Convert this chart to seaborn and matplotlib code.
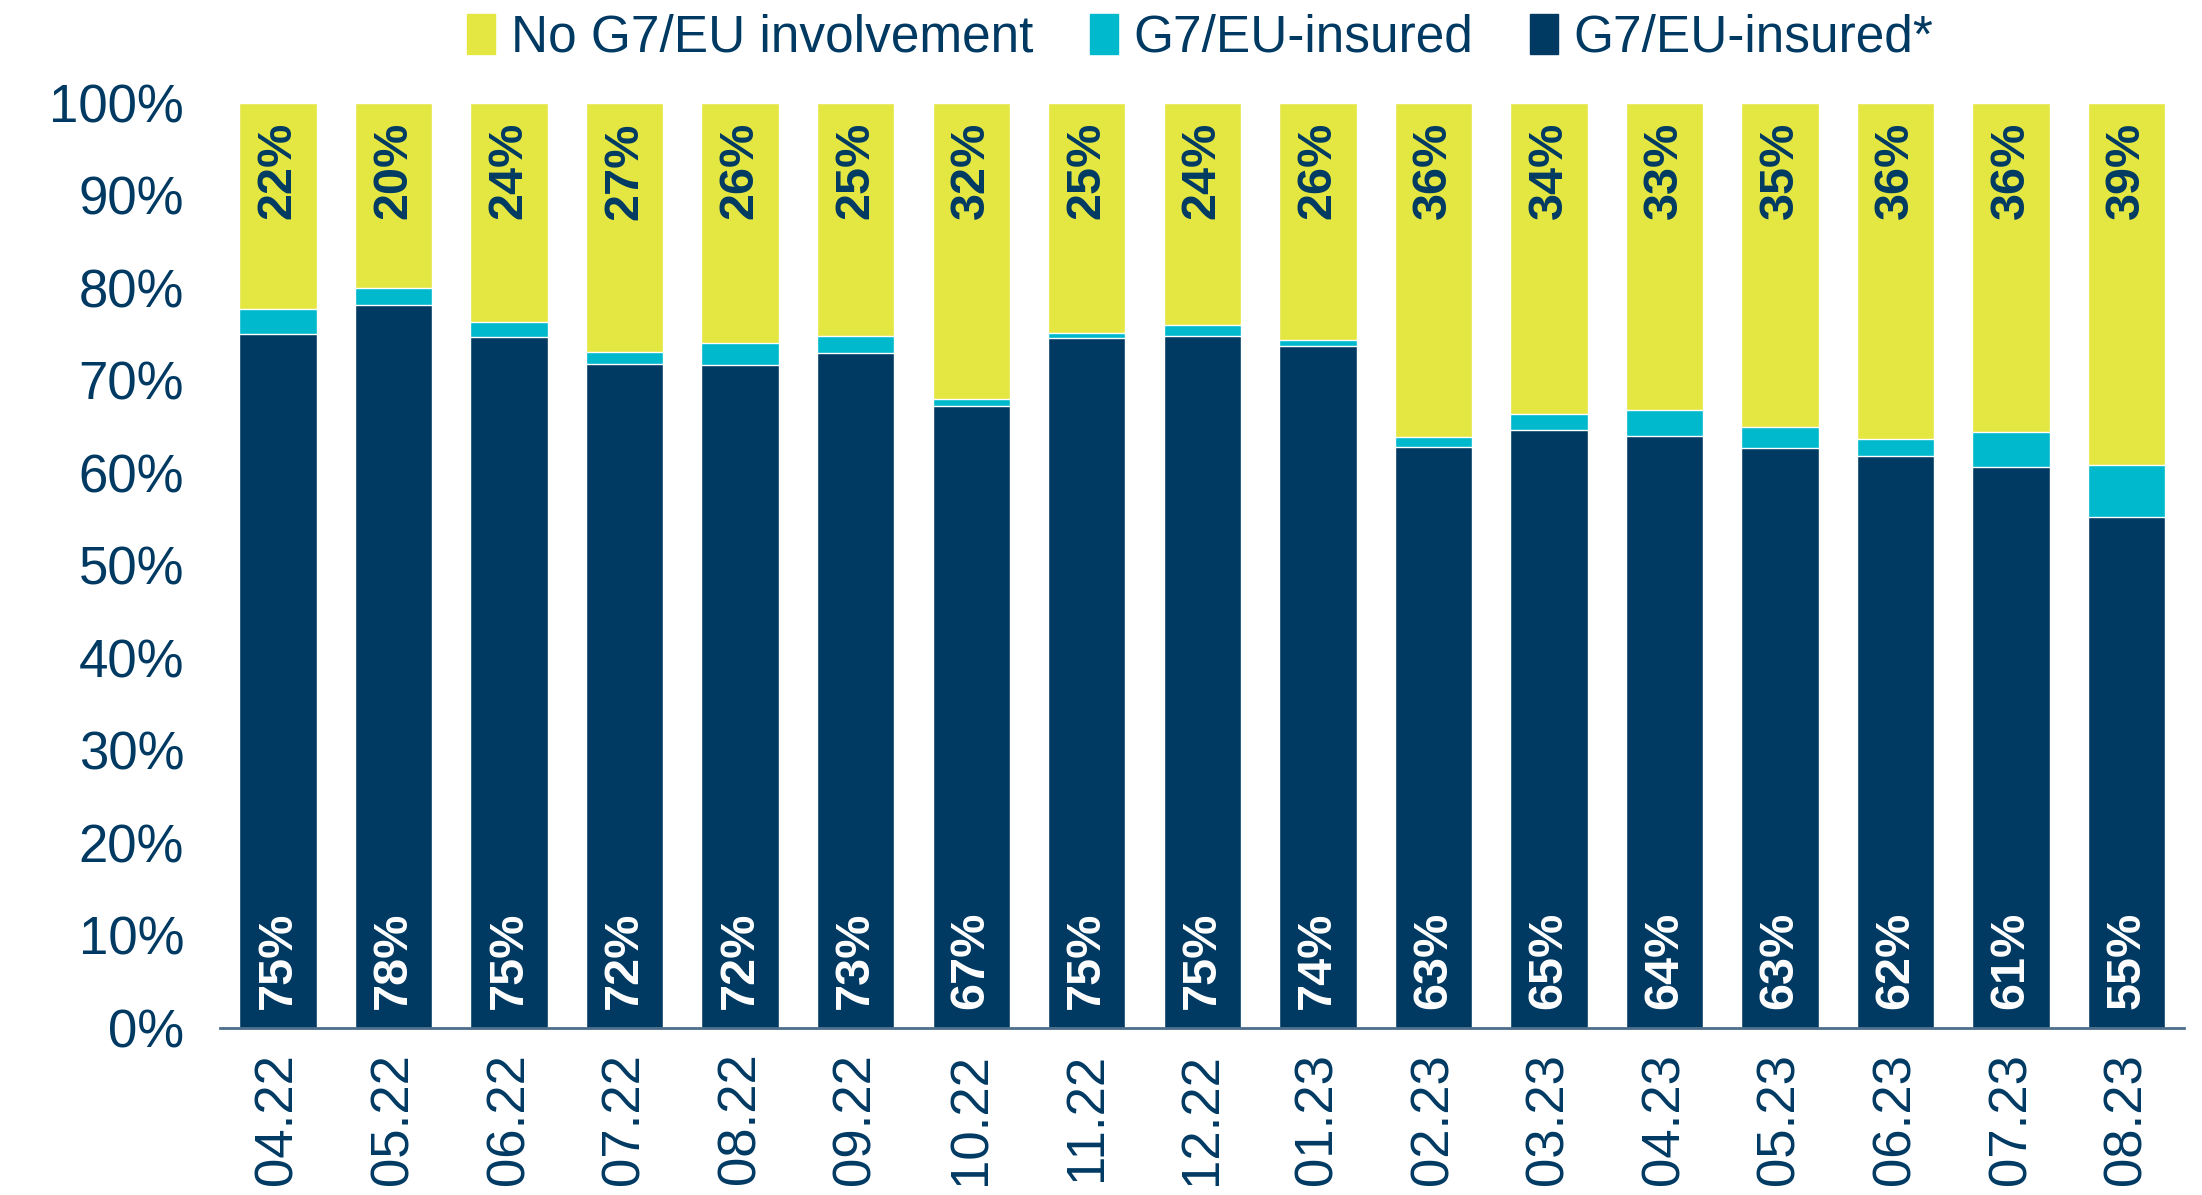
import matplotlib
matplotlib.use('Agg')
import matplotlib.pyplot as plt
import seaborn as sns
import numpy as np
from matplotlib.patches import Patch

# Data (% shares per month)
months = ['04.22', '05.22', '06.22', '07.22', '08.22', '09.22', '10.22', '11.22', '12.22',
          '01.23', '02.23', '03.23', '04.23', '05.23', '06.23', '07.23', '08.23']
insured_star = [75.0, 78.1, 74.7, 71.8, 71.6, 73.0, 67.2, 74.6, 74.8, 73.7, 62.8, 64.6, 64.0, 62.7, 61.8, 60.6, 55.2]
insured = [2.7, 1.9, 1.6, 1.3, 2.4, 1.8, 0.8, 0.5, 1.2, 0.7, 1.1, 1.7, 2.8, 2.2, 1.9, 3.8, 5.6]
no_involvement = [22.3, 20.0, 23.7, 26.9, 26.0, 25.2, 32.0, 24.9, 24.0, 25.6, 36.1, 33.7, 33.2, 35.1, 36.3, 35.6, 39.2]

# Colours
navy = '#003A63'
cyan = '#00B9CD'
yellow = '#E4E641'

sns.set_style('white')
plt.rcParams['font.family'] = ['Liberation Sans', 'DejaVu Sans']

fig = plt.figure(figsize=(22.02, 11.95), dpi=100)
ax = fig.add_axes([0.1, 0.14, 0.892, 0.774])

# Stacked bars drawn as cumulative layers
lvl1 = np.array(insured_star)
lvl2 = lvl1 + np.array(insured)
lvl3 = lvl2 + np.array(no_involvement)

sns.barplot(x=months, y=lvl3, color=yellow, saturation=1, width=0.67, ax=ax)
sns.barplot(x=months, y=lvl2, color=cyan, saturation=1, width=0.67, ax=ax)
sns.barplot(x=months, y=lvl1, color=navy, saturation=1, width=0.67, ax=ax)

# Value labels
for i in range(len(months)):
    ax.text(i, 2.0, f'{insured_star[i]:.0f}%', rotation=90, ha='center', va='bottom',
            color='white', fontsize=35, fontweight='bold')
    ax.text(i, 97.9, f'{no_involvement[i]:.0f}%', rotation=90, ha='center', va='top',
            color=navy, fontsize=35, fontweight='bold')

ax.set_ylim(0, 100)
ax.set_xlim(-0.5, len(months) - 0.5)
ax.set_yticks(np.arange(0, 101, 10))
ax.set_yticklabels([f'{v}%' for v in range(0, 101, 10)])
ax.tick_params(axis='y', labelsize=38, labelcolor=navy, length=0, pad=26)
ax.tick_params(axis='x', labelsize=38, labelcolor=navy, length=0, pad=18, labelrotation=90)
ax.set_xlabel('')
ax.set_ylabel('')

for s in ['left', 'top', 'right']:
    ax.spines[s].set_visible(False)
ax.spines['bottom'].set_color('#4d6e8c')
ax.spines['bottom'].set_linewidth(2)

handles = [Patch(color=yellow), Patch(color=cyan), Patch(color=navy)]
labels = ['No G7/EU involvement', 'G7/EU-insured', 'G7/EU-insured*']
fig.legend(handles, labels, loc='center', bbox_to_anchor=(0.545, 0.968), ncol=3,
           frameon=False, fontsize=37, labelcolor=navy, handlelength=0.55,
           handleheight=0.8, handletextpad=0.3, columnspacing=1.1)

fig.savefig('out.png', dpi=100)
